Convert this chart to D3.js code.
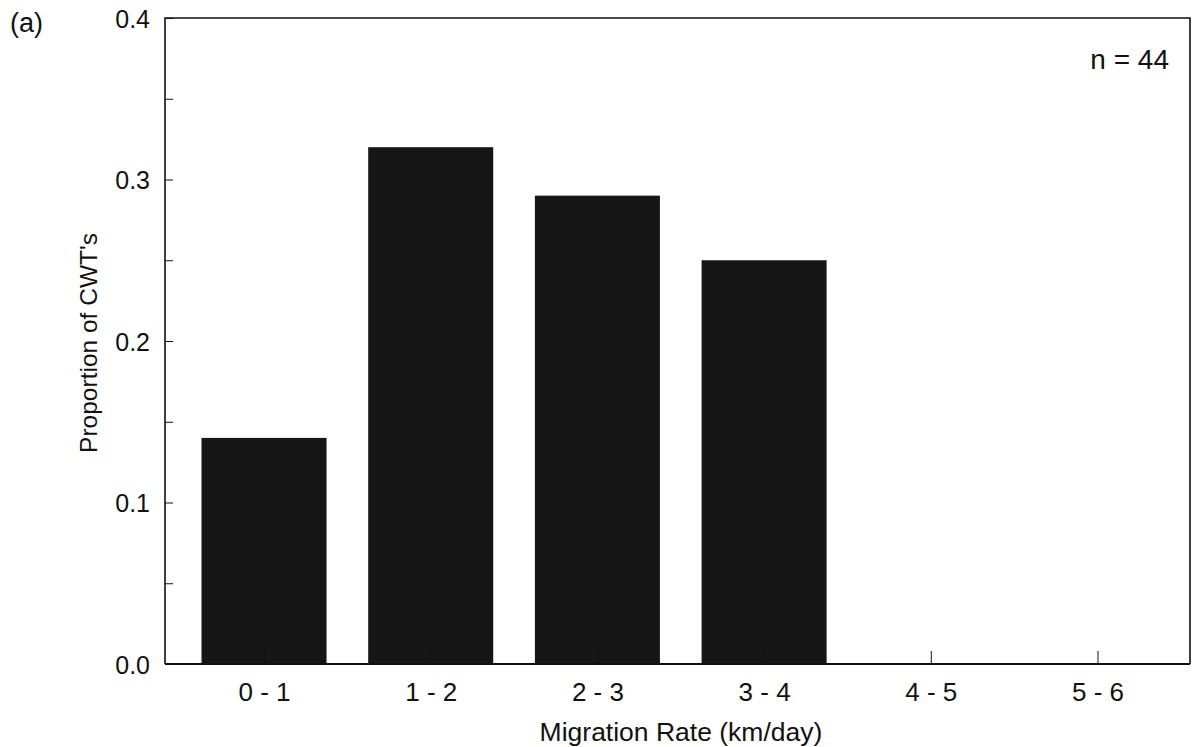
<!DOCTYPE html>
<html><head><meta charset="utf-8">
<script src="https://cdn.jsdelivr.net/npm/d3@7"></script>
<style>body{margin:0;background:#fff}svg{display:block}text{font-family:"Liberation Sans",Arial,sans-serif;fill:#111}</style>
</head><body>
<script>
const categories = ["0 - 1","1 - 2","2 - 3","3 - 4","4 - 5","5 - 6"];
const binCenters = [0.5,1.5,2.5,3.5,4.5,5.5];
const proportions = [0.14,0.32,0.29,0.25,0,0];
const yTicks = [0,0.1,0.2,0.3,0.4];
const yMinorTicks = [0.05,0.15,0.25,0.35];
const nLabel = "n = 44";

const W=1193,H=747;
const L=165,R=1190,T=18,B=664;
const FONT="Liberation Sans, Arial, sans-serif";
const svg=d3.select("body").append("svg").attr("width",W).attr("height",H);
const x=d3.scaleLinear().domain([-0.094,6.055]).range([L,R]);
const y=d3.scaleLinear().domain([0,0.4]).range([B,T]);
const bw=(x(1)-x(0))*0.75;

svg.append("g").selectAll("rect").data(proportions.map((v,i)=>({v,c:binCenters[i]})).filter(d=>d.v>0))
  .join("rect").attr("x",d=>x(d.c)-bw/2).attr("width",bw)
  .attr("y",d=>y(d.v)).attr("height",d=>y(0)-y(d.v)).attr("fill","#161616");

// frame
svg.append("path").attr("d",`M${L},${B}V${T}H${R}V${B}`).attr("fill","none").attr("stroke","#111").attr("stroke-width",1.6);
svg.append("line").attr("x1",L).attr("x2",R).attr("y1",B).attr("y2",B).attr("stroke","#111").attr("stroke-width",2.2);

// y axis
const ya=svg.append("g").attr("transform",`translate(${L},0)`).call(d3.axisRight(y).tickValues(yTicks).tickFormat(d3.format(".1f")).tickSize(8));
ya.select(".domain").remove();
ya.selectAll("line").attr("stroke","#111");
ya.selectAll("text").attr("x",-15).attr("dy","0.36em").attr("text-anchor","end").attr("font-size",25).attr("font-family",FONT).attr("fill","#111");
const ym=svg.append("g").attr("transform",`translate(${L},0)`).call(d3.axisRight(y).tickValues(yMinorTicks).tickFormat("").tickSize(8));
ym.select(".domain").remove(); ym.selectAll("line").attr("stroke","#111");

// x axis
const xa=svg.append("g").attr("transform",`translate(0,${B})`).call(d3.axisTop(x).tickValues(binCenters).tickFormat((d,i)=>categories[i]).tickSize(13));
xa.select(".domain").remove();
xa.selectAll("line").attr("stroke","#111");
xa.selectAll("text").attr("y",37).attr("dy",0).attr("font-size",26).attr("font-family",FONT).attr("fill","#111");

svg.append("text").attr("x",681).attr("y",741).attr("text-anchor","middle").attr("font-size",26.5).text("Migration Rate (km/day)");
svg.append("text").attr("transform",`translate(97,343) rotate(-90)`).attr("text-anchor","middle").attr("font-size",24.5).text("Proportion of CWT's");
svg.append("text").attr("x",10).attr("y",32).attr("font-size",27).text("(a)");
svg.append("text").attr("x",1169).attr("y",69).attr("text-anchor","end").attr("font-size",28).text(nLabel);
</script>
</body></html>
